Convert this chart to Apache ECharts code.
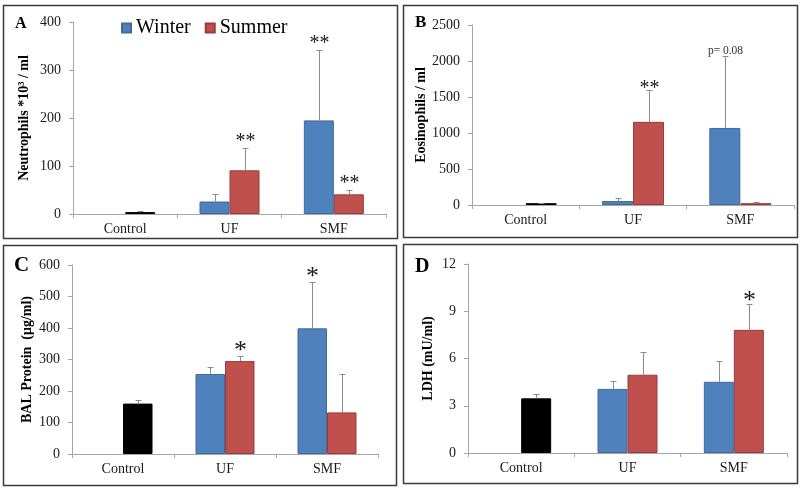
<!DOCTYPE html>
<html>
<head>
<meta charset="utf-8">
<script src="https://cdn.jsdelivr.net/npm/echarts@6/dist/echarts.min.js"></script>
<style>html,body{margin:0;padding:0;background:#fff}#c{width:800px;height:488px}</style>
</head>
<body>
<div id="c"></div>
<script>
// ---------- data ----------
const categories = ['Control', 'UF', 'SMF'];
const seriesNames = ['Winter', 'Summer'];

// Panel A – Neutrophils *10^3 / ml
const neutroControl = 4, neutroControlErr = 2.2;
const neutroWinter = [null, 26, 195];
const neutroWinterErr = [null, 15, 146];
const neutroSummer = [null, 91, 41];
const neutroSummerErr = [null, 46, 9];
const neutroWinterSig = ['', '', '**'];
const neutroSummerSig = ['', '**', '**'];
const neutroTicks = [0, 100, 200, 300, 400];

// Panel B – Eosinophils / ml
const eosControl = 25, eosControlErr = 8;
const eosWinter = [null, 55, 1070];
const eosWinterErr = [null, 40, 995];
const eosSummer = [null, 1155, 25];
const eosSummerErr = [null, 440, 22];
const eosWinterSig = ['', '', 'p= 0.08'];
const eosSummerSig = ['', '**', ''];
const eosTicks = [0, 500, 1000, 1500, 2000, 2500];

// Panel C – BAL Protein (µg/ml)
const protControl = 160, protControlErr = 11;
const protWinter = [null, 254, 399];
const protWinterErr = [null, 23, 148];
const protSummer = [null, 295, 132];
const protSummerErr = [null, 16, 121];
const protWinterSig = ['', '', '*'];
const protSummerSig = ['', '*', ''];
const protTicks = [0, 100, 200, 300, 400, 500, 600];

// Panel D – LDH (mU/ml)
const ldhControl = 3.47, ldhControlErr = 0.29;
const ldhWinter = [null, 4.07, 4.52];
const ldhWinterErr = [null, 0.5, 1.32];
const ldhSummer = [null, 4.97, 7.82];
const ldhSummerErr = [null, 1.47, 1.65];
const ldhWinterSig = ['', '', ''];
const ldhSummerSig = ['', '', '*'];
const ldhTicks = [0, 3, 6, 9, 12];

// ---------- styling ----------
const FONT = 'Liberation Serif, Times New Roman, serif';
const BLUE = '#4F81BD', RED = '#C0504D', BLACK = '#000000';
const AXIS = '#a6a6a6', ERR = '#8c8c8c';

const panels = [
  { name: 'Neutrophils *10³ / ml', ticks: neutroTicks, control: neutroControl, controlErr: neutroControlErr,
    winter: neutroWinter, winterErr: neutroWinterErr, summer: neutroSummer, summerErr: neutroSummerErr,
    winterSig: neutroWinterSig, summerSig: neutroSummerSig,
    grid: { left: 73, top: 22, width: 313, height: 192 }, nameGap: 42, starSize: 20, starGap: 2, barW: 30 },
  { name: 'Eosinophils / ml', ticks: eosTicks, control: eosControl, controlErr: eosControlErr,
    winter: eosWinter, winterErr: eosWinterErr, summer: eosSummer, summerErr: eosSummerErr,
    winterSig: eosWinterSig, summerSig: eosSummerSig,
    grid: { left: 472, top: 25, width: 322, height: 180 }, nameGap: 43, starSize: 20, starGap: -3, barW: 31 },
  { name: 'BAL Protein  (μg/ml)', ticks: protTicks, control: protControl, controlErr: protControlErr,
    winter: protWinter, winterErr: protWinterErr, summer: protSummer, summerErr: protSummerErr,
    winterSig: protWinterSig, summerSig: protSummerSig,
    grid: { left: 72, top: 265, width: 306, height: 189 }, nameGap: 38, starSize: 26, starGap: 0, barW: 29.5 },
  { name: 'LDH (mU/ml)', ticks: ldhTicks, control: ldhControl, controlErr: ldhControlErr,
    winter: ldhWinter, winterErr: ldhWinterErr, summer: ldhSummer, summerErr: ldhSummerErr,
    winterSig: ldhWinterSig, summerSig: ldhSummerSig,
    grid: { left: 468, top: 264, width: 319, height: 189 }, nameGap: 33, starSize: 26, starGap: -2, barW: 30 }
];

const grids = [], xAxes = [], yAxes = [], series = [];

panels.forEach((p, k) => {
  grids.push(Object.assign({ containLabel: false }, p.grid));
  xAxes.push({
    type: 'category', gridIndex: k, data: categories,
    axisLine: { lineStyle: { color: AXIS, width: 1 } },
    axisTick: { show: true, length: 4, lineStyle: { color: AXIS } },
    axisLabel: { fontFamily: FONT, fontSize: 14, color: '#1a1a1a', margin: 8 }
  });
  const t = p.ticks;
  yAxes.push({
    type: 'value', gridIndex: k, min: t[0], max: t[t.length - 1], interval: t[1] - t[0],
    name: p.name, nameLocation: 'middle', nameRotate: 90, nameGap: p.nameGap,
    nameTextStyle: { fontFamily: FONT, fontSize: 14, fontWeight: 'bold', color: '#000' },
    axisLine: { show: true, lineStyle: { color: AXIS, width: 1 } },
    axisTick: { show: true, length: 4, lineStyle: { color: AXIS } },
    splitLine: { show: false },
    axisLabel: { fontFamily: FONT, fontSize: 14, color: '#1a1a1a', margin: 12, formatter: v => String(v) }
  });

  const winterData = p.winter.map(v => v);
  const summerData = p.summer.map((v, i) => i === 0
    ? { value: p.control, itemStyle: { color: BLACK, borderColor: BLACK } }
    : v);

  series.push({
    name: seriesNames[0], type: 'bar', xAxisIndex: k, yAxisIndex: k, data: winterData,
    barWidth: p.barW, barGap: '0%',
    itemStyle: { color: BLUE, borderColor: '#3d6b9e', borderWidth: 1 }, emphasis: { disabled: true }
  });
  series.push({
    name: seriesNames[1], type: 'bar', xAxisIndex: k, yAxisIndex: k, data: summerData,
    barWidth: p.barW, barGap: '0%',
    itemStyle: { color: RED, borderColor: '#9a3c39', borderWidth: 1 }, emphasis: { disabled: true }
  });

  // error bars + significance marks
  const errItems = [];
  categories.forEach((c, i) => {
    if (i === 0) {
      errItems.push({ i, v: p.control, e: p.controlErr, side: 1, sig: '' });
    } else {
      if (p.winter[i] != null) errItems.push({ i, v: p.winter[i], e: p.winterErr[i], side: -1, sig: p.winterSig[i] });
      if (p.summer[i] != null) errItems.push({ i, v: p.summer[i], e: p.summerErr[i], side: 1, sig: p.summerSig[i] });
    }
  });
  series.push({
    type: 'custom', xAxisIndex: k, yAxisIndex: k, z: 5, silent: true,
    data: errItems.map(d => [d.i, d.v + d.e]),
    encode: { x: 0, y: 1 },
    renderItem: (params, api) => {
      const d = errItems[params.dataIndex];
      const base = api.coord([d.i, d.v]);
      const top = api.coord([d.i, d.v + d.e]);
      const x = Math.round(base[0] + d.side * p.barW / 2) + 0.5;
      const yb = base[1], yt = Math.round(top[1]) + 0.5;
      const children = [
        { type: 'line', shape: { x1: x, y1: yb, x2: x, y2: yt }, style: { stroke: ERR, lineWidth: 1 } },
        { type: 'line', shape: { x1: x - 3, y1: yt, x2: x + 3, y2: yt }, style: { stroke: ERR, lineWidth: 1 } }
      ];
      if (d.sig) {
        const isP = d.sig.indexOf('p') === 0;
        children.push({
          type: 'text',
          style: {
            text: d.sig, x: x, y: isP ? yt - 6 : yt - p.starGap + p.starSize * 0.28,
            align: 'center', verticalAlign: isP ? 'middle' : 'bottom',
            fontFamily: FONT, fontSize: isP ? 11.5 : p.starSize, fill: isP ? '#333' : '#1a1a1a'
          }
        });
      }
      return { type: 'group', children };
    }
  });
});

const frames = [
  { x: 3, y: 5, w: 394, h: 233 },
  { x: 403, y: 5, w: 394, h: 232 },
  { x: 3, y: 245, w: 393, h: 240 },
  { x: 403, y: 244, w: 394, h: 239 }
];
const letters = [
  { t: 'A', x: 15, y: 24, s: 16 },
  { t: 'B', x: 415, y: 23, s: 17 },
  { t: 'C', x: 14, y: 266, s: 21 },
  { t: 'D', x: 415, y: 267, s: 20 }
];
const graphic = [];
frames.forEach(f => graphic.push({
  type: 'rect', silent: true, z: -1,
  shape: { x: f.x + 0.5, y: f.y + 0.5, width: f.w, height: f.h },
  style: { fill: null, stroke: '#3a3a3a', lineWidth: 1.5 }
}));
letters.forEach(l => graphic.push({
  type: 'text', silent: true, x: l.x, y: l.y,
  style: { text: l.t, fontFamily: FONT, fontWeight: 'bold', fontSize: l.s, fill: '#000', verticalAlign: 'middle', align: 'left' }
}));

const chart = echarts.init(document.getElementById('c'), null, { renderer: 'canvas' });
chart.setOption({
  backgroundColor: '#fff',
  animation: false,
  legend: {
    data: seriesNames, left: 121, top: 18, padding: 0, icon: 'rect', itemWidth: 9, itemHeight: 9, itemGap: 14,
    textStyle: { fontFamily: FONT, fontSize: 20, color: '#000' }, selectedMode: false
  },
  grid: grids, xAxis: xAxes, yAxis: yAxes, series, graphic
});
</script>
</body>
</html>
